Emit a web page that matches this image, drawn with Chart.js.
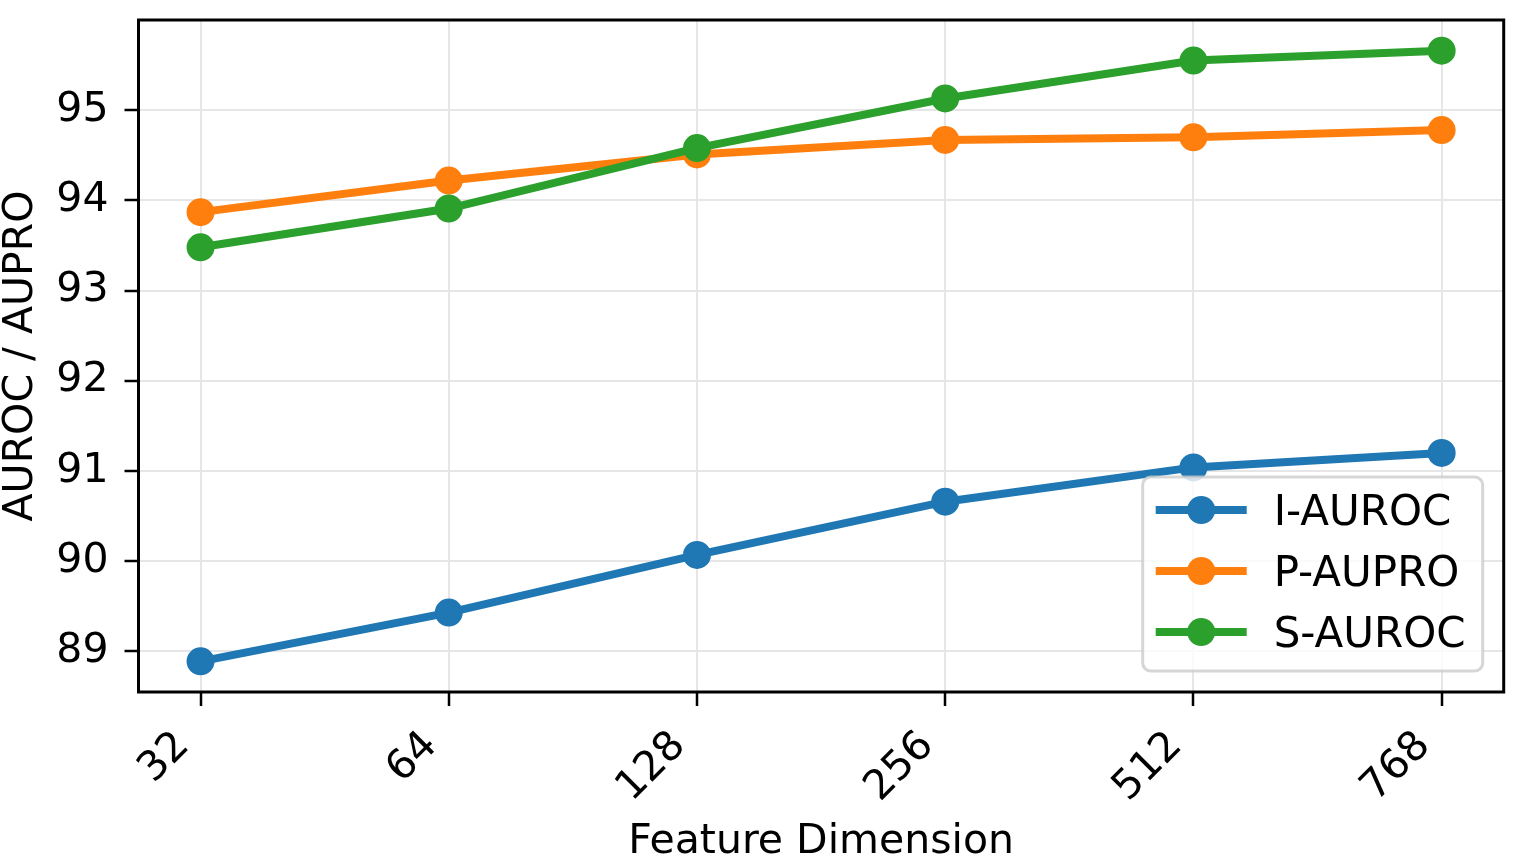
<!DOCTYPE html>
<html><head><meta charset="utf-8">
<script src="https://cdn.jsdelivr.net/npm/chart.js@4.4.0/dist/chart.umd.min.js"></script>
<style>html,body{margin:0;padding:0;background:#fff;overflow:hidden;}canvas{display:block;}</style>
</head><body>
<canvas id="c" width="1526" height="856"></canvas>
<script>
// ---- data ----
const dims = ['32', '64', '128', '256', '512', '768'];
const iAuroc = [88.89, 89.43, 90.07, 90.66, 91.04, 91.20];
const pAupro = [93.87, 94.22, 94.51, 94.67, 94.70, 94.78];
const sAuroc = [93.48, 93.91, 94.58, 95.13, 95.55, 95.66];
const seriesNames = ['I-AUROC', 'P-AUPRO', 'S-AUROC'];
const seriesColors = ['#1f77b4', '#ff7f0e', '#2ca02c'];
const yTicks = [89, 90, 91, 92, 93, 94, 95];
const xTitle = 'Feature Dimension';
const yTitle = 'AUROC / AUPRO';

const FONT = "'DejaVu Sans', 'Liberation Sans', sans-serif";
Chart.defaults.font.family = FONT;
Chart.defaults.color = '#000';

const allSeries = [iAuroc, pAupro, sAuroc];
const datasets = allSeries.map((vals, k) => ({
  label: seriesNames[k],
  data: vals.map((v, i) => ({x: i, y: v})),
  borderColor: seriesColors[k],
  backgroundColor: seriesColors[k],
  pointBackgroundColor: seriesColors[k],
  pointBorderColor: seriesColors[k],
  borderWidth: 8,
  pointRadius: 13,
  pointBorderWidth: 2,
  tension: 0,
  order: allSeries.length - k
}));

const framePlugin = {
  id: 'frame',
  afterDatasetsDraw(chart) {
    const {ctx, chartArea: a} = chart;
    ctx.save();
    ctx.strokeStyle = '#000';
    ctx.lineWidth = 3;
    ctx.strokeRect(a.left, a.top, a.right - a.left, a.bottom - a.top);
    ctx.restore();
  }
};

const legendPlugin = {
  id: 'mplLegend',
  afterDraw(chart) {
    const {ctx, chartArea: a} = chart;
    const w = 340, h = 194;
    const x1 = a.right - 21 - w, y1 = a.bottom - 21 - h;
    ctx.save();
    ctx.beginPath();
    ctx.roundRect(x1, y1, w, h, 8);
    ctx.fillStyle = 'rgba(255,255,255,0.8)';
    ctx.fill();
    ctx.strokeStyle = 'rgba(204,204,204,0.8)';
    ctx.lineWidth = 3;
    ctx.stroke();
    ctx.font = '42px ' + FONT;
    ctx.textAlign = 'left';
    ctx.textBaseline = 'alphabetic';
    chart.data.datasets.forEach((ds, i) => {
      const cy = y1 + 33 + 61 * i;
      ctx.strokeStyle = ds.borderColor;
      ctx.lineWidth = 8;
      ctx.beginPath();
      ctx.moveTo(x1 + 13, cy);
      ctx.lineTo(x1 + 104, cy);
      ctx.stroke();
      ctx.fillStyle = ds.borderColor;
      ctx.beginPath();
      ctx.arc(x1 + 58.5, cy, 14, 0, Math.PI * 2);
      ctx.fill();
      ctx.fillStyle = '#000';
      ctx.fillText(ds.label, x1 + 131, cy + 15);
    });
    ctx.restore();
  }
};

new Chart(document.getElementById('c'), {
  type: 'line',
  data: {datasets},
  plugins: [framePlugin, legendPlugin],
  options: {
    responsive: false,
    animation: false,
    devicePixelRatio: 1,
    layout: {padding: {top: 20, right: 22.3, left: 0, bottom: 0}},
    plugins: {legend: {display: false}, tooltip: {enabled: false}},
    scales: {
      x: {
        type: 'linear',
        min: -0.25,
        max: 5.25,
        afterBuildTicks: s => { s.ticks = dims.map((_, i) => ({value: i})); },
        afterFit: s => { s.height = 164; s.paddingLeft = 0; s.paddingRight = 0; },
        grid: {color: '#e6e6e6', lineWidth: 2, tickColor: '#000', tickWidth: 2.5, tickLength: 14},
        border: {display: false},
        ticks: {
          autoSkip: false,
          minRotation: 45, maxRotation: 45,
          font: {size: 41},
          padding: 16,
          labelOffset: -17.5,
          callback: v => dims[v]
        },
        title: {display: true, text: xTitle, font: {size: 41}, padding: {top: 0, bottom: -11}}
      },
      y: {
        type: 'linear',
        min: 88.55,
        max: 96.0,
        afterBuildTicks: s => { s.ticks = yTicks.map(v => ({value: v})); },
        afterFit: s => { s.width = 138.5; s.paddingTop = 0; s.paddingBottom = 0; },
        grid: {color: '#e6e6e6', lineWidth: 2, tickColor: '#000', tickWidth: 2.5, tickLength: 14},
        border: {display: false},
        ticks: {font: {size: 41}, padding: 16, callback: v => String(v)},
        title: {display: true, text: yTitle, font: {size: 41}, padding: {top: -3, bottom: 0}}
      }
    }
  }
});
</script>
</body></html>
